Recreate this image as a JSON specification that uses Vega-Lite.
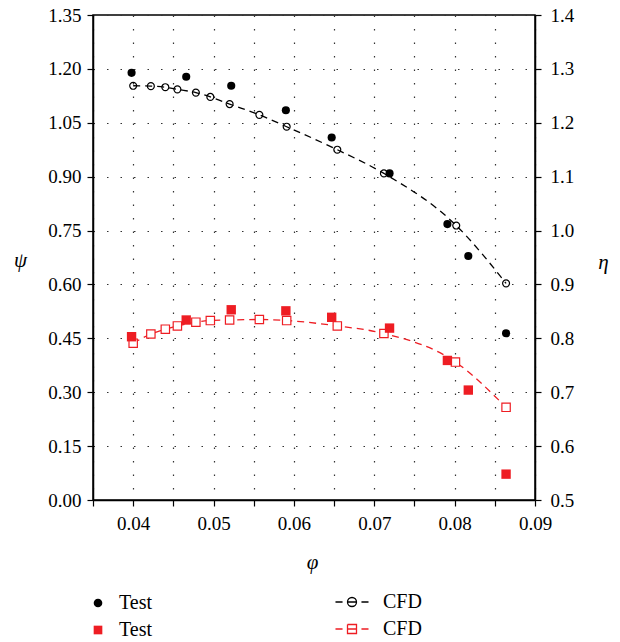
{
  "$schema": "https://vega.github.io/schema/vega-lite/v6.json",
  "width": 442,
  "height": 485,
  "autosize": {"type": "none"},
  "padding": {"left": 93, "top": 15, "right": 85, "bottom": 142},
  "background": "white",
  "config": {
    "font": "Liberation Serif",
    "view": {"stroke": "black", "strokeWidth": 1.5},
    "axis": {
      "labelFont": "Liberation Serif",
      "labelFontSize": 19,
      "labelColor": "black",
      "labelFlush": false,
      "labelOverlap": false,
      "domainColor": "black",
      "domainWidth": 1.5,
      "tickColor": "black",
      "tickSize": 6,
      "tickWidth": 1.2,
      "labelPadding": 6,
      "gridColor": "#333333",
      "gridDash": [1.5, 12],
      "gridWidth": 1.2,
      "gridOpacity": 1,
      "titleFont": "Liberation Serif",
      "titleFontSize": 21,
      "titleFontStyle": "italic",
      "titleFontWeight": "normal",
      "titleColor": "black",
      "titleAngle": 0,
      "titleAlign": "center",
      "titleBaseline": "middle"
    },
    "legend": {
      "labelFont": "Liberation Serif",
      "labelFontSize": 20,
      "labelColor": "black",
      "padding": 0
    }
  },
  "datasets": {
    "psiTest": [
      {"phi": 0.0398, "value": 1.189, "series": "psi_test"},
      {"phi": 0.0466, "value": 1.178, "series": "psi_test"},
      {"phi": 0.0522, "value": 1.153, "series": "psi_test"},
      {"phi": 0.0590, "value": 1.085, "series": "psi_test"},
      {"phi": 0.0647, "value": 1.009, "series": "psi_test"},
      {"phi": 0.0719, "value": 0.909, "series": "psi_test"},
      {"phi": 0.0791, "value": 0.768, "series": "psi_test"},
      {"phi": 0.0817, "value": 0.679, "series": "psi_test"},
      {"phi": 0.0864, "value": 0.464, "series": "psi_test"}
    ],
    "psiCFD": [
      {"phi": 0.0400, "value": 1.153, "series": "psi_cfd"},
      {"phi": 0.0422, "value": 1.152, "series": "psi_cfd"},
      {"phi": 0.0440, "value": 1.149, "series": "psi_cfd"},
      {"phi": 0.0455, "value": 1.143, "series": "psi_cfd"},
      {"phi": 0.0478, "value": 1.134, "series": "psi_cfd"},
      {"phi": 0.0496, "value": 1.122, "series": "psi_cfd"},
      {"phi": 0.0520, "value": 1.102, "series": "psi_cfd"},
      {"phi": 0.0557, "value": 1.072, "series": "psi_cfd"},
      {"phi": 0.0591, "value": 1.039, "series": "psi_cfd"},
      {"phi": 0.0654, "value": 0.975, "series": "psi_cfd"},
      {"phi": 0.0712, "value": 0.909, "series": "psi_cfd"},
      {"phi": 0.0802, "value": 0.764, "series": "psi_cfd"},
      {"phi": 0.0864, "value": 0.603, "series": "psi_cfd"}
    ],
    "etaTest": [
      {"phi": 0.0398, "value": 0.803, "series": "eta_test"},
      {"phi": 0.0466, "value": 0.834, "series": "eta_test"},
      {"phi": 0.0522, "value": 0.853, "series": "eta_test"},
      {"phi": 0.0590, "value": 0.851, "series": "eta_test"},
      {"phi": 0.0647, "value": 0.839, "series": "eta_test"},
      {"phi": 0.0719, "value": 0.819, "series": "eta_test"},
      {"phi": 0.0791, "value": 0.759, "series": "eta_test"},
      {"phi": 0.0817, "value": 0.704, "series": "eta_test"},
      {"phi": 0.0864, "value": 0.548, "series": "eta_test"}
    ],
    "etaCFD": [
      {"phi": 0.0400, "value": 0.791, "series": "eta_cfd"},
      {"phi": 0.0422, "value": 0.808, "series": "eta_cfd"},
      {"phi": 0.0440, "value": 0.817, "series": "eta_cfd"},
      {"phi": 0.0455, "value": 0.823, "series": "eta_cfd"},
      {"phi": 0.0478, "value": 0.830, "series": "eta_cfd"},
      {"phi": 0.0496, "value": 0.833, "series": "eta_cfd"},
      {"phi": 0.0520, "value": 0.834, "series": "eta_cfd"},
      {"phi": 0.0557, "value": 0.835, "series": "eta_cfd"},
      {"phi": 0.0591, "value": 0.833, "series": "eta_cfd"},
      {"phi": 0.0654, "value": 0.823, "series": "eta_cfd"},
      {"phi": 0.0712, "value": 0.809, "series": "eta_cfd"},
      {"phi": 0.0801, "value": 0.756, "series": "eta_cfd"},
      {"phi": 0.0864, "value": 0.672, "series": "eta_cfd"}
    ]
  },
  "layer": [
    {
      "encoding": {
        "x": {
          "field": "phi", "type": "quantitative",
          "scale": {"domain": [0.035, 0.09], "nice": false, "zero": false},
          "axis": {
            "title": "φ", "titleX": 219, "titleY": 62, "labelPadding": 8,
            "values": [0.035, 0.04, 0.045, 0.05, 0.055, 0.06, 0.065, 0.07, 0.075, 0.08, 0.085, 0.09],
            "labelExpr": "round(datum.value*1000) % 10 == 0 ? format(datum.value, '.2f') : ''",
            "grid": true
          }
        },
        "y": {
          "field": "value", "type": "quantitative",
          "scale": {"domain": [0, 1.35], "nice": false, "zero": false},
          "axis": {
            "orient": "left", "title": "ψ", "titleX": -73, "titleY": 245,
            "values": [0, 0.15, 0.3, 0.45, 0.6, 0.75, 0.9, 1.05, 1.2, 1.35],
            "format": ".2f", "grid": true
          }
        }
      },
      "layer": [
        {
          "data": {"name": "psiCFD"},
          "mark": {"type": "line", "strokeDash": [7, 5], "strokeWidth": 1.3, "interpolate": "monotone"},
          "encoding": {
            "stroke": {
              "field": "series", "type": "nominal",
              "scale": {"domain": ["psi_cfd", "eta_cfd"], "range": ["black", "#ee1d23"]},
              "legend": {
                "title": null, "orient": "none", "legendX": 249, "legendY": 577, "direction": "vertical",
                "labelExpr": "'CFD'", "labelOffset": 21, "rowPadding": 7, "symbolSize": 81, "symbolStrokeWidth": 1.3,
                "encode": {"symbols": {"update": {
                  "shape": {"signal": "datum.value === 'psi_cfd' ? 'M-3.67,0L-2.1,0M2.1,0L3.67,0M-1,0A1,1,0,1,0,1,0A1,1,0,1,0,-1,0M-1,0L1,0' : 'M-3.67,0L-2.1,0M2.1,0L3.67,0M-1,-1L1,-1L1,1L-1,1ZM-1,0L1,0'"},
                  "fill": {"value": "transparent"},
                  "strokeDash": {"value": [100, 0]}
                }}}
              }
            }
          }
        },
        {
          "data": {"name": "psiCFD"},
          "mark": {"type": "point", "shape": "circle", "filled": false, "size": 48, "strokeWidth": 1.2, "opacity": 1},
          "encoding": {
            "stroke": {
              "field": "series", "type": "nominal",
              "scale": {"domain": ["psi_cfd", "eta_cfd"], "range": ["black", "#ee1d23"]},
              "legend": {
                "title": null, "orient": "none", "legendX": 249, "legendY": 577, "direction": "vertical",
                "labelExpr": "'CFD'", "labelOffset": 21, "rowPadding": 7, "symbolSize": 81, "symbolStrokeWidth": 1.3,
                "encode": {"symbols": {"update": {
                  "shape": {"signal": "datum.value === 'psi_cfd' ? 'M-3.67,0L-2.1,0M2.1,0L3.67,0M-1,0A1,1,0,1,0,1,0A1,1,0,1,0,-1,0M-1,0L1,0' : 'M-3.67,0L-2.1,0M2.1,0L3.67,0M-1,-1L1,-1L1,1L-1,1ZM-1,0L1,0'"},
                  "fill": {"value": "transparent"},
                  "strokeDash": {"value": [100, 0]}
                }}}
              }
            }
          }
        },
        {
          "data": {"name": "psiTest"},
          "mark": {"type": "point", "filled": true, "size": 66, "opacity": 1},
          "encoding": {
            "color": {
              "field": "series", "type": "nominal",
              "scale": {"domain": ["psi_test", "eta_test"], "range": ["black", "#ee1d23"]},
              "legend": {
                "title": null, "orient": "none", "legendX": -5, "legendY": 578, "direction": "vertical",
                "labelExpr": "'Test'", "labelOffset": 11, "rowPadding": 7, "symbolSize": 75
              }
            },
            "shape": {
              "field": "series", "type": "nominal",
              "scale": {"domain": ["psi_test", "eta_test"], "range": ["circle", "square"]},
              "legend": {
                "title": null, "orient": "none", "legendX": -5, "legendY": 578, "direction": "vertical",
                "labelExpr": "'Test'", "labelOffset": 11, "rowPadding": 7, "symbolSize": 75
              }
            }
          }
        }
      ]
    },
    {
      "encoding": {
        "x": {
          "field": "phi", "type": "quantitative",
          "scale": {"domain": [0.035, 0.09], "nice": false, "zero": false},
          "axis": {
            "title": "φ", "titleX": 219, "titleY": 62, "labelPadding": 8,
            "values": [0.035, 0.04, 0.045, 0.05, 0.055, 0.06, 0.065, 0.07, 0.075, 0.08, 0.085, 0.09],
            "labelExpr": "round(datum.value*1000) % 10 == 0 ? format(datum.value, '.2f') : ''",
            "grid": true
          }
        },
        "y": {
          "field": "value", "type": "quantitative",
          "scale": {"domain": [0.5, 1.4], "nice": false, "zero": false},
          "axis": {
            "orient": "right", "title": "η", "titleX": 68, "titleY": 247,
            "values": [0.5, 0.6, 0.7, 0.8, 0.9, 1.0, 1.1, 1.2, 1.3, 1.4],
            "format": ".1f", "grid": false, "labelPadding": 9
          }
        }
      },
      "layer": [
        {
          "data": {"name": "etaCFD"},
          "mark": {"type": "line", "strokeDash": [7, 5], "strokeWidth": 1.3, "interpolate": "monotone"},
          "encoding": {
            "stroke": {
              "field": "series", "type": "nominal",
              "scale": {"domain": ["psi_cfd", "eta_cfd"], "range": ["black", "#ee1d23"]},
              "legend": {
                "title": null, "orient": "none", "legendX": 249, "legendY": 577, "direction": "vertical",
                "labelExpr": "'CFD'", "labelOffset": 21, "rowPadding": 7, "symbolSize": 81, "symbolStrokeWidth": 1.3,
                "encode": {"symbols": {"update": {
                  "shape": {"signal": "datum.value === 'psi_cfd' ? 'M-3.67,0L-2.1,0M2.1,0L3.67,0M-1,0A1,1,0,1,0,1,0A1,1,0,1,0,-1,0M-1,0L1,0' : 'M-3.67,0L-2.1,0M2.1,0L3.67,0M-1,-1L1,-1L1,1L-1,1ZM-1,0L1,0'"},
                  "fill": {"value": "transparent"},
                  "strokeDash": {"value": [100, 0]}
                }}}
              }
            }
          }
        },
        {
          "data": {"name": "etaCFD"},
          "mark": {"type": "point", "shape": "square", "filled": false, "fill": "white", "size": 70, "strokeWidth": 1.2, "opacity": 1},
          "encoding": {
            "stroke": {
              "field": "series", "type": "nominal",
              "scale": {"domain": ["psi_cfd", "eta_cfd"], "range": ["black", "#ee1d23"]},
              "legend": {
                "title": null, "orient": "none", "legendX": 249, "legendY": 577, "direction": "vertical",
                "labelExpr": "'CFD'", "labelOffset": 21, "rowPadding": 7, "symbolSize": 81, "symbolStrokeWidth": 1.3,
                "encode": {"symbols": {"update": {
                  "shape": {"signal": "datum.value === 'psi_cfd' ? 'M-3.67,0L-2.1,0M2.1,0L3.67,0M-1,0A1,1,0,1,0,1,0A1,1,0,1,0,-1,0M-1,0L1,0' : 'M-3.67,0L-2.1,0M2.1,0L3.67,0M-1,-1L1,-1L1,1L-1,1ZM-1,0L1,0'"},
                  "fill": {"value": "transparent"},
                  "strokeDash": {"value": [100, 0]}
                }}}
              }
            }
          }
        },
        {
          "data": {"name": "etaTest"},
          "mark": {"type": "point", "filled": true, "size": 88, "opacity": 1},
          "encoding": {
            "color": {
              "field": "series", "type": "nominal",
              "scale": {"domain": ["psi_test", "eta_test"], "range": ["black", "#ee1d23"]},
              "legend": {
                "title": null, "orient": "none", "legendX": -5, "legendY": 578, "direction": "vertical",
                "labelExpr": "'Test'", "labelOffset": 11, "rowPadding": 7, "symbolSize": 75
              }
            },
            "shape": {
              "field": "series", "type": "nominal",
              "scale": {"domain": ["psi_test", "eta_test"], "range": ["circle", "square"]},
              "legend": {
                "title": null, "orient": "none", "legendX": -5, "legendY": 578, "direction": "vertical",
                "labelExpr": "'Test'", "labelOffset": 11, "rowPadding": 7, "symbolSize": 75
              }
            }
          }
        }
      ]
    }
  ],
  "resolve": {"scale": {"y": "independent"}}
}
